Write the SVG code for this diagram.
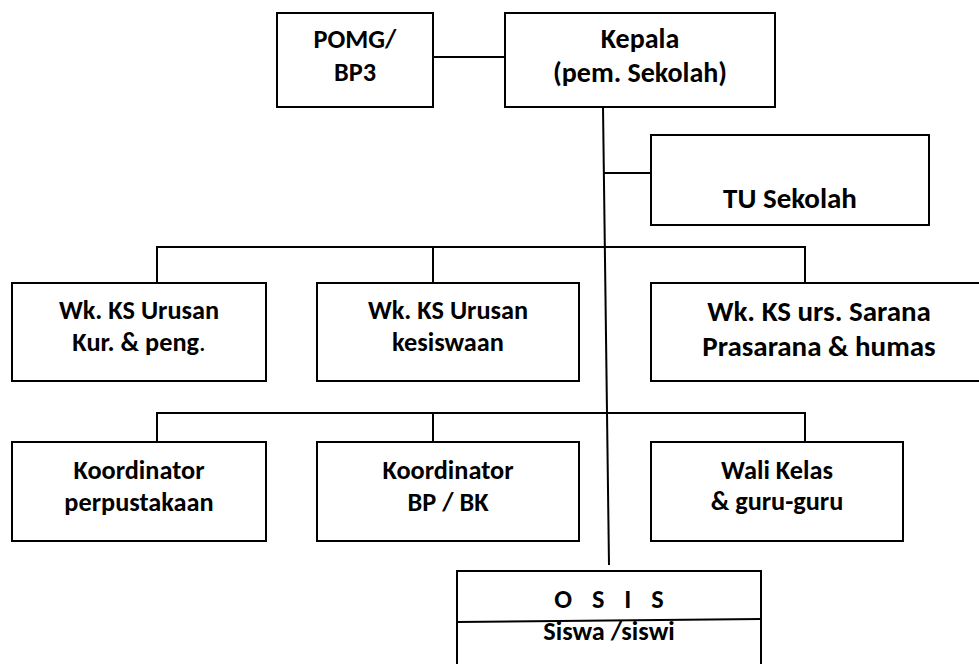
<svg xmlns="http://www.w3.org/2000/svg" width="979" height="664" viewBox="0 0 979 664">
<style>
.box{fill:#fff;stroke:#000;stroke-width:2}
.ln{fill:none;stroke:#000;stroke-width:2}
.t{font-family:Carlito,Lato,"Liberation Sans",sans-serif;font-weight:700;font-size:26.3px;fill:#000;text-anchor:middle}
.big{font-size:29px}
.mid{font-size:28px}
</style>
<rect width="979" height="664" fill="#fff"/>
<g id="connectors">
<line class="ln" x1="433" y1="57" x2="505" y2="57"/>
<line class="ln" x1="603" y1="107" x2="609" y2="565" stroke-width="1.6"/>
<line class="ln" x1="603.5" y1="173" x2="651" y2="173"/>
<polyline class="ln" points="157,283 157,247 805,247 805,283"/>
<line class="ln" x1="433" y1="247" x2="433" y2="283"/>
<polyline class="ln" points="157,442 157,413 805,413 805,442"/>
<line class="ln" x1="433" y1="413" x2="433" y2="442"/>
</g>
<g id="pomg">
<rect class="box" x="277" y="13" width="156" height="94"/>
<text class="t" x="355" y="48">POMG/</text>
<text class="t" x="355" y="81">BP3</text>
</g>
<g id="kepala">
<rect class="box" x="505" y="13" width="270" height="94"/>
<text class="t mid" x="640" y="48">Kepala</text>
<text class="t mid" x="640" y="82">(pem. Sekolah)</text>
</g>
<g id="tu">
<rect class="box" x="651" y="135" width="278" height="90"/>
<text class="t big" x="790" y="208">TU Sekolah</text>
</g>
<g id="wk-kur">
<rect class="box" x="12" y="283" width="254" height="98"/>
<text class="t" x="139" y="319">Wk. KS Urusan</text>
<text class="t" x="139" y="351">Kur. &amp; peng<tspan font-weight="400">.</tspan></text>
</g>
<g id="wk-kesiswaan">
<rect class="box" x="317" y="283" width="262" height="98"/>
<text class="t" x="448" y="319">Wk. KS Urusan</text>
<text class="t" x="448" y="351">kesiswaan</text>
</g>
<g id="wk-sarana">
<rect class="box" x="651" y="283" width="340" height="98"/>
<text class="t big" x="819" y="321">Wk. KS urs. Sarana</text>
<text class="t big" x="819" y="356">Prasarana &amp; humas</text>
</g>
<g id="koord-perpus">
<rect class="box" x="12" y="442" width="254" height="99"/>
<text class="t" x="139" y="479">Koordinator</text>
<text class="t" x="139" y="511">perpustakaan</text>
</g>
<g id="koord-bp">
<rect class="box" x="317" y="442" width="262" height="99"/>
<text class="t" x="448" y="479">Koordinator</text>
<text class="t" x="448" y="511">BP / BK</text>
</g>
<g id="wali">
<rect class="box" x="651" y="442" width="252" height="99"/>
<text class="t" x="777" y="479">Wali Kelas</text>
<text class="t" x="777" y="510">&amp; guru-guru</text>
</g>
<g id="osis">
<rect class="box" x="457" y="571" width="304" height="110"/>
<line class="ln" x1="457" y1="622" x2="761" y2="619"/>
<text class="t" x="609" y="608" word-spacing="14">O S I S</text>
<text class="t" x="609" y="640">Siswa /siswi</text>
</g>
</svg>
